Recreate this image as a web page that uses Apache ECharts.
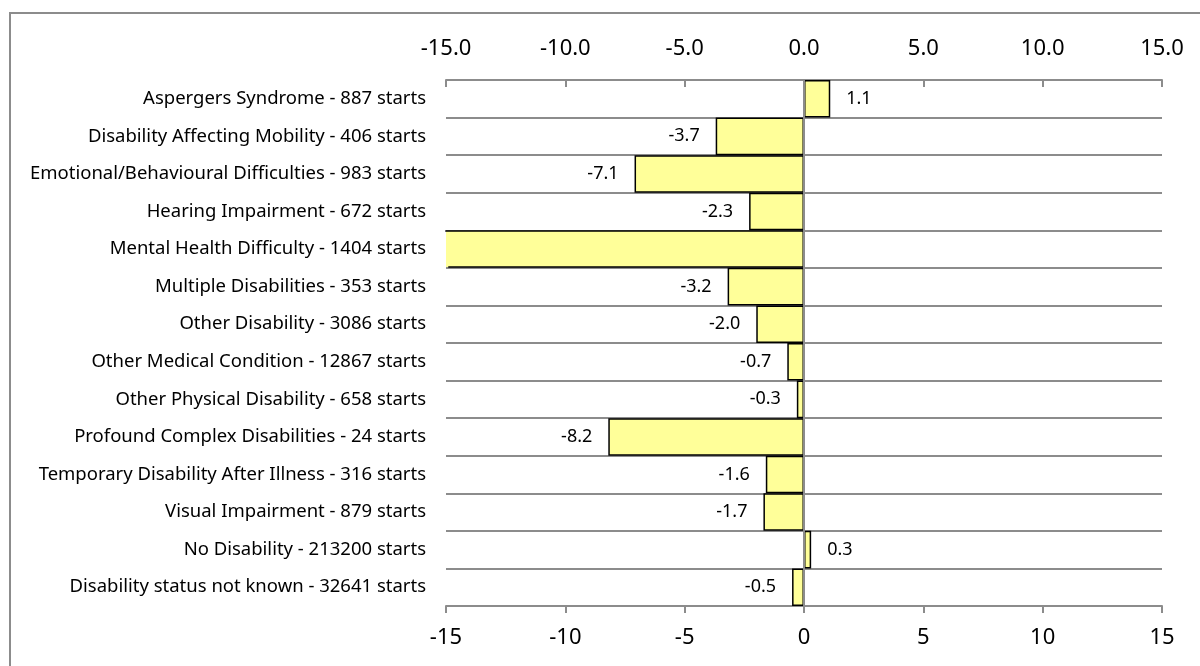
<!DOCTYPE html>
<html>
<head>
<meta charset="utf-8">
<title>Change by disability</title>
<script src="https://cdn.jsdelivr.net/npm/echarts@6/dist/echarts.min.js"></script>
<style>
  html, body { margin: 0; padding: 0; background: #ffffff; }
  #chart { width: 1200px; height: 666px; }
</style>
</head>
<body>
<div id="chart"></div>
<script>
// Categories, top to bottom
const categories = [
  'Aspergers Syndrome - 887 starts',
  'Disability Affecting Mobility - 406 starts',
  'Emotional/Behavioural Difficulties - 983 starts',
  'Hearing Impairment - 672 starts',
  'Mental Health Difficulty - 1404 starts',
  'Multiple Disabilities - 353 starts',
  'Other Disability - 3086 starts',
  'Other Medical Condition - 12867 starts',
  'Other Physical Disability - 658 starts',
  'Profound Complex Disabilities - 24 starts',
  'Temporary Disability After Illness - 316 starts',
  'Visual Impairment - 879 starts',
  'No Disability - 213200 starts',
  'Disability status not known - 32641 starts'
];

// Percentage-point change per category (Mental Health runs past the axis minimum)
const values = [1.1, -3.7, -7.1, -2.3, -17.5, -3.2, -2.0, -0.7, -0.3, -8.2, -1.6, -1.7, 0.3, -0.5];

// Value axis ticks
const xTicks = [-15, -10, -5, 0, 5, 10, 15];

const xMin = xTicks[0];
const xMax = xTicks[xTicks.length - 1];
const xStep = xTicks[1] - xTicks[0];

const GRID_GREY = '#8c8c8c';
const FONT = '"Noto Sans", "Open Sans", sans-serif';

const chart = echarts.init(document.getElementById('chart'), null, { renderer: 'canvas' });

const inRange = v => v >= xMin && v <= xMax;

function buildBarData(openEdgeDash) {
  return values.map(v => {
    const item = {
      value: v,
      label: { show: inRange(v), position: v < 0 ? 'left' : 'right' }
    };
    // A bar cut off by the axis end gets no outline on the cut side
    if (!inRange(v) && openEdgeDash) {
      item.itemStyle = { borderType: openEdgeDash };
    }
    return item;
  });
}

const valueAxisBase = {
  type: 'value',
  min: xMin,
  max: xMax,
  interval: xStep,
  axisLine: { show: true, lineStyle: { color: GRID_GREY, width: 2 } },
  splitLine: { show: false },
  axisLabel: { color: '#000', fontSize: 22, fontFamily: FONT }
};

chart.setOption({
  animation: false,
  backgroundColor: '#ffffff',
  graphic: [{
    type: 'rect',
    shape: { x: 10, y: 13, width: 1400, height: 900 },
    style: { fill: 'none', stroke: GRID_GREY, lineWidth: 2 },
    silent: true,
    z: 0
  }],
  grid: { left: 446, right: 38, top: 80, bottom: 60, containLabel: false },
  xAxis: [
    Object.assign({}, valueAxisBase, {
      position: 'top',
      axisTick: { show: true, inside: true, length: 7, lineStyle: { color: GRID_GREY, width: 2 } },
      axisLabel: Object.assign({}, valueAxisBase.axisLabel, {
        margin: 20,
        formatter: v => v.toFixed(1)
      })
    }),
    Object.assign({}, valueAxisBase, {
      position: 'bottom',
      axisTick: { show: true, inside: false, length: 7, lineStyle: { color: GRID_GREY, width: 2 } },
      axisLabel: Object.assign({}, valueAxisBase.axisLabel, {
        margin: 21,
        formatter: v => String(v)
      })
    })
  ],
  yAxis: {
    type: 'category',
    inverse: true,
    data: categories,
    axisLine: { show: false },
    axisTick: { show: false },
    splitLine: { show: true, lineStyle: { color: GRID_GREY, width: 2 } },
    axisLabel: { color: '#000', fontSize: 18.5, fontFamily: FONT, margin: 20 }
  },
  series: [{
    type: 'bar',
    xAxisIndex: 0,
    yAxisIndex: 0,
    data: buildBarData(null),
    barCategoryGap: '0%',
    itemStyle: { color: '#ffff99', borderColor: '#000', borderWidth: 1.5 },
    label: {
      color: '#000',
      fontSize: 18,
      fontFamily: FONT,
      distance: 16,
      formatter: p => p.value.toFixed(1)
    },
    markLine: {
      silent: true,
      symbol: 'none',
      label: { show: false },
      lineStyle: { color: GRID_GREY, width: 2, type: 'solid' },
      data: [{ xAxis: 0 }]
    }
  }]
});

// Outline for clipped bars: top edge, skip the edge at the axis end, then bottom and zero side
const pxZero = chart.convertToPixel({ xAxisIndex: 0 }, 0);
const pxMin = chart.convertToPixel({ xAxisIndex: 0 }, xMin);
const barLen = Math.abs(pxZero - pxMin);
const band = Math.abs(
  chart.convertToPixel({ yAxisIndex: 0 }, categories[1]) -
  chart.convertToPixel({ yAxisIndex: 0 }, categories[0])
);
chart.setOption({
  series: [{ data: buildBarData([barLen, band, barLen + band + 10]) }]
});
</script>
</body>
</html>
